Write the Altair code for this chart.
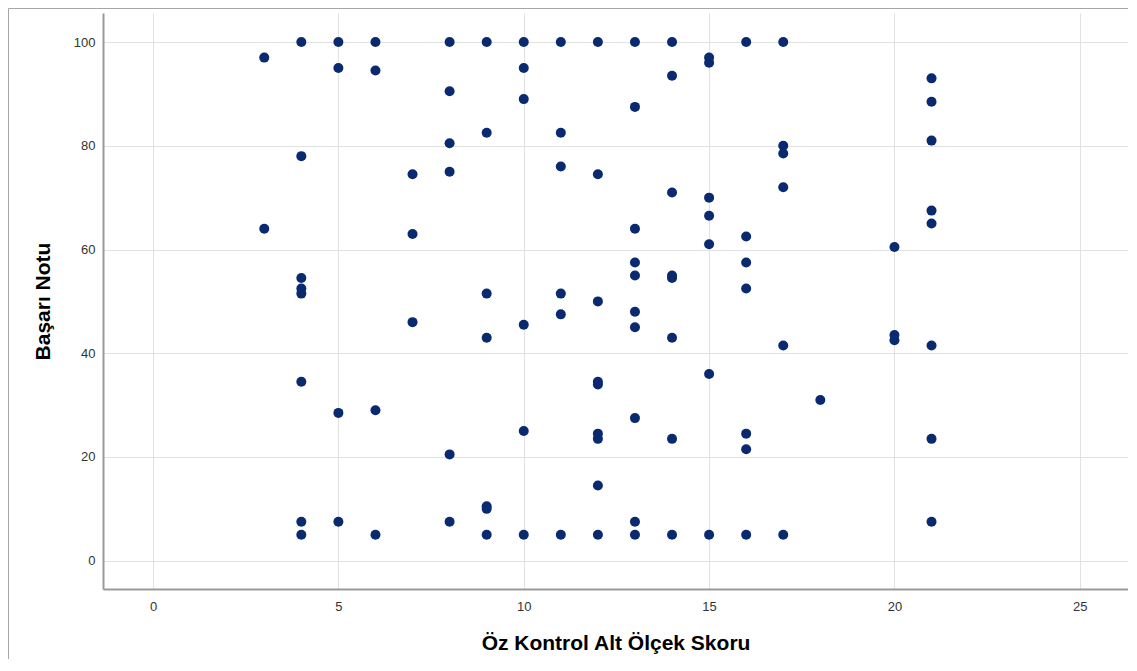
import altair as alt
import pandas as pd

# Öz Kontrol Alt Ölçek Skoru (x) and Başarı Notu (y), grouped by x value
x3 = [97, 64]
x4 = [100, 78, 54.5, 52.5, 51.5, 34.5, 7.5, 5]
x5 = [100, 95, 28.5, 7.5]
x6 = [100, 94.5, 29, 5]
x7 = [74.5, 63, 46]
x8 = [100, 90.5, 80.5, 75, 20.5, 7.5]
x9 = [100, 82.5, 51.5, 43, 10.5, 10, 5]
x10 = [100, 95, 89, 45.5, 25, 5]
x11 = [100, 82.5, 76, 51.5, 47.5, 5]
x12 = [100, 74.5, 50, 34.5, 34, 24.5, 23.5, 14.5, 5]
x13 = [100, 87.5, 64, 57.5, 55, 48, 45, 27.5, 7.5, 5]
x14 = [100, 93.5, 71, 55, 54.5, 43, 23.5, 5]
x15 = [97, 96, 70, 66.5, 61, 36, 5]
x16 = [100, 62.5, 57.5, 52.5, 24.5, 21.5, 5]
x17 = [100, 80, 78.5, 72, 41.5, 5]
x18 = [31]
x20 = [60.5, 43.5, 42.5]
x21 = [93, 88.5, 81, 67.5, 65, 41.5, 23.5, 7.5]

groups = {3: x3, 4: x4, 5: x5, 6: x6, 7: x7, 8: x8, 9: x9, 10: x10, 11: x11,
          12: x12, 13: x13, 14: x14, 15: x15, 16: x16, 17: x17, 18: x18,
          20: x20, 21: x21}

x_ticks = [0, 5, 10, 15, 20, 25]
y_ticks = [0, 20, 40, 60, 80, 100]

rows = []
for k, vals in groups.items():
    for v in vals:
        rows.append({"skor": k, "not": v})
df = pd.DataFrame(rows)

FONT = "Liberation Sans"

points = alt.Chart(df).mark_circle(size=100, color="#0a2a70", opacity=1).encode(
    x=alt.X("skor:Q", title="Öz Kontrol Alt Ölçek Skoru",
            scale=alt.Scale(domain=[-1.35, 26.3], nice=False, zero=False),
            axis=alt.Axis(values=x_ticks, grid=True, ticks=False, labelPadding=11,
                          titlePadding=19)),
    y=alt.Y("not:Q", title="Başarı Notu",
            scale=alt.Scale(domain=[-5.45, 105.6], nice=False, zero=False),
            axis=alt.Axis(values=y_ticks, grid=True, ticks=False, labelPadding=8,
                          titlePadding=20)),
)

frame = alt.Chart(alt.Data(values=[{}])).mark_rect(
    fillOpacity=0, stroke="#a6a6a6", strokeWidth=1
).encode(
    x=alt.value(-94.5), x2=alt.value(1300), y=alt.value(-4.5), y2=alt.value(900)
)

chart = alt.layer(frame, points).properties(
    width=1025, height=576,
    autosize=alt.AutoSizeParams(type="none"),
    padding={"left": 95, "top": 5, "right": 0, "bottom": 70},
).configure_view(stroke=None).configure_axis(
    domainColor="#9a9a9a", domainWidth=2,
    gridColor="#e2e2e2", gridWidth=1,
    labelFont=FONT, labelFontSize=13, labelColor="#333333",
    titleFont=FONT, titleFontSize=21, titleFontWeight="bold", titleColor="#000000",
)

chart.save("out.html", embed_options={"renderer": "svg", "actions": False})
